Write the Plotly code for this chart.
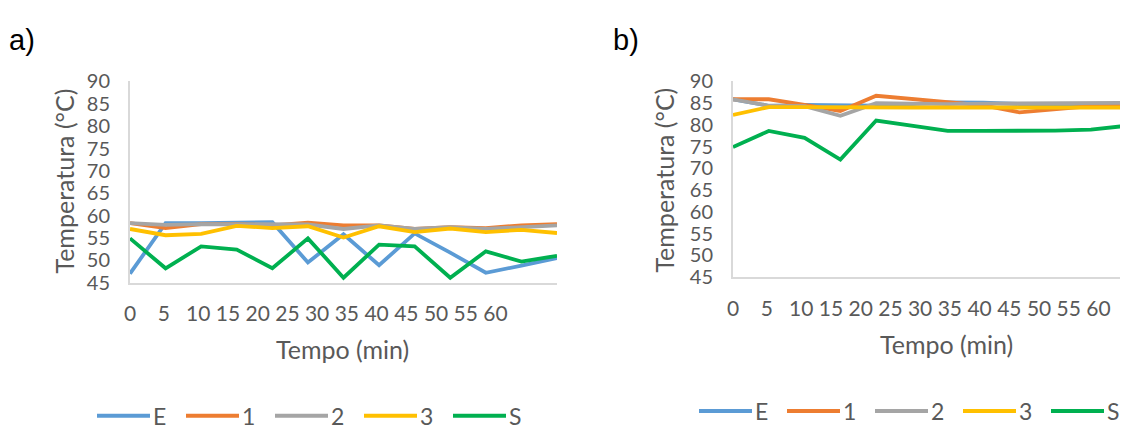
import plotly.graph_objects as go

W, H = 1128, 432

# ---- data ----
minutes = ["0", "5", "10", "15", "20", "25", "30", "35", "40", "45", "50", "55", "60"]
points = list(range(13))
series_names = ["E", "1", "2", "3", "S"]
colors = ["#5B9BD5", "#ED7D31", "#A5A5A5", "#FFC000", "#00B050"]

a_E = [47.0, 58.3, 58.3, 58.5, 58.5, 49.5, 55.8, 48.9, 56.0, 51.7, 47.2, 48.8, 50.5]
a_1 = [58.3, 57.2, 58.1, 58.1, 57.8, 58.4, 57.8, 57.8, 57.0, 57.4, 57.2, 57.8, 58.1]
a_2 = [58.3, 57.9, 58.1, 58.1, 57.9, 58.0, 57.0, 57.8, 57.0, 57.4, 57.0, 57.4, 57.8]
a_3 = [57.0, 55.6, 55.9, 57.7, 57.2, 57.6, 55.1, 57.6, 56.3, 57.1, 56.3, 56.8, 56.1]
a_S = [54.9, 48.2, 53.1, 52.4, 48.2, 54.9, 46.1, 53.5, 53.1, 46.1, 52.0, 49.7, 51.0]

b_E = [85.9, 84.4, 84.6, 84.5, 84.4, 84.8, 85.2, 85.1, 84.8, 84.8, 84.8, 84.8, 84.8]
b_1 = [85.9, 85.9, 84.6, 83.2, 86.7, 86.0, 85.2, 84.5, 82.9, 83.6, 84.3, 84.4, 84.4]
b_2 = [85.9, 84.4, 84.3, 82.1, 85.0, 84.8, 84.8, 84.9, 85.0, 85.1, 85.2, 85.1, 85.0]
b_3 = [82.3, 84.1, 84.1, 84.0, 84.0, 84.0, 84.0, 84.0, 83.9, 84.0, 84.0, 84.0, 84.0]
b_S = [74.9, 78.6, 77.0, 72.0, 81.0, 79.9, 78.6, 78.6, 78.6, 78.7, 78.9, 79.8, 80.2]

panel_a = [a_E, a_1, a_2, a_3, a_S]
panel_b = [b_E, b_1, b_2, b_3, b_S]

TEXT = "#595959"
AXIS = "#D9D9D9"
FONT = "Lato"
OFF = 8  # default page margin around the plot div


def px(x):
    return (x - OFF) / W


def py(y):
    return 1 - (y - OFF) / H


fig = go.Figure()

for name, col, ya in zip(series_names, colors, panel_a):
    fig.add_trace(go.Scatter(x=points, y=ya, mode="lines", name=name,
                             line=dict(color=col, width=3.8), xaxis="x", yaxis="y",
                             showlegend=False))
for name, col, yb in zip(series_names, colors, panel_b):
    fig.add_trace(go.Scatter(x=points, y=yb, mode="lines", name=name,
                             line=dict(color=col, width=3.8), xaxis="x2", yaxis="y2",
                             showlegend=False))

yax = dict(range=[45, 90], dtick=5, tick0=45, showgrid=False, zeroline=False,
           showline=True, linecolor=AXIS, linewidth=2, ticks="",
           ticklabelstandoff=14,
           tickfont=dict(family=FONT, size=20, color=TEXT))
xax = dict(showgrid=False, zeroline=False, showline=True, linecolor=AXIS,
           linewidth=2, ticks="", showticklabels=False)

fig.update_layout(
    width=W, height=H,
    margin=dict(l=0, r=0, t=0, b=0),
    paper_bgcolor="white", plot_bgcolor="white",
    xaxis=dict(xax, domain=[px(130), px(557)], range=[0, 12], anchor="y"),
    yaxis=dict(yax, domain=[py(285), py(72)], anchor="x"),
    xaxis2=dict(xax, domain=[px(733), 1.0], range=[0, 11.26], anchor="y2"),
    yaxis2=dict(yax, domain=[py(279), py(72)], anchor="x2"),
)

# x tick labels written as one text line (as in the original figure)
tick_line = minutes[0] + "\u00a0" * 4 + minutes[1] + "\u00a0" * 3 + "\u00a0".join(minutes[2:])

ann = []
for left, yy in [(122, 317), (725, 311)]:
    ann.append(dict(text=tick_line, x=px(left), y=py(yy), xref="paper", yref="paper",
                    xanchor="left", yanchor="middle", showarrow=False,
                    font=dict(family=FONT, size=21, color=TEXT)))

for cx, cy in [(342, 355), (946, 350)]:
    ann.append(dict(text="Tempo (min)", x=px(cx), y=py(cy), xref="paper", yref="paper",
                    xanchor="center", yanchor="middle", showarrow=False,
                    font=dict(family=FONT, size=25, color=TEXT)))

for cx, cy in [(64, 178), (664, 177)]:
    ann.append(dict(text="Temperatura (°C)", x=px(cx), y=py(cy), xref="paper", yref="paper",
                    xanchor="center", yanchor="middle", showarrow=False, textangle=-90,
                    font=dict(family=FONT, size=25, color=TEXT)))

for lbl, cx, cy in [("a)", 7, 28), ("b)", 611, 28)]:
    ann.append(dict(text=lbl, x=px(cx), y=py(cy), xref="paper", yref="paper",
                    xanchor="left", yanchor="middle", showarrow=False,
                    font=dict(family="Liberation Sans, Arial", size=29, color="black")))

# manual legends (long line samples like the original)
shapes = []
for x0, yy, step in [(97, 426, 89), (699, 421, 88)]:
    for i, (name, col) in enumerate(zip(series_names, colors)):
        xs = x0 + i * step
        shapes.append(dict(type="line", xref="paper", yref="paper",
                           x0=px(xs), x1=px(xs + 53), y0=py(yy), y1=py(yy),
                           line=dict(color=col, width=4)))
        ann.append(dict(text=name, x=px(xs + 54), y=py(yy), xref="paper", yref="paper",
                        xanchor="left", yanchor="middle", showarrow=False,
                        font=dict(family=FONT, size=23, color=TEXT)))

fig.update_layout(annotations=ann, shapes=shapes)

fig.write_html("out.html")
